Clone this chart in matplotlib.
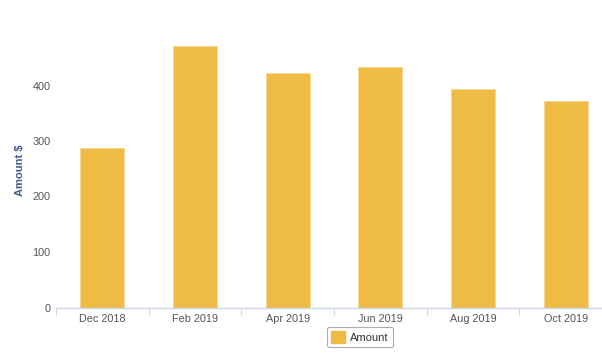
import matplotlib
matplotlib.use("Agg")
import matplotlib.pyplot as plt
from matplotlib.patches import Patch

months = ["Dec 2018", "Feb 2019", "Apr 2019", "Jun 2019", "Aug 2019", "Oct 2019"]
amounts = [287, 472, 422, 434, 393, 372]
y_ticks = [0, 100, 200, 300, 400]

W, H = 602, 353
fig = plt.figure(figsize=(W / 100, H / 100), dpi=100)
plt.rcParams["font.family"] = ["Liberation Sans", "DejaVu Sans"]

# plot area runs a bit past the right edge, like the original
left, right, bottom, top = 56, 612, 307.5, 30
ax = fig.add_axes([left / W, (H - bottom) / H, (right - left) / W, (bottom - top) / H])

x = list(range(len(months)))
ax.bar(x, amounts, width=0.475, color="#EEBB45", edgecolor="#F6D98F", linewidth=0.6, zorder=2)

ax.set_xlim(-0.5, len(months) - 0.5)
ax.set_ylim(0, 500)
ax.set_yticks(y_ticks)
ax.set_yticklabels([str(v) for v in y_ticks])
ax.set_xticks(x)
ax.set_xticklabels(months)

# category boundary ticks below the axis line
ax.set_xticks([i - 0.5 for i in range(len(months) + 1)], minor=True)
ax.tick_params(axis="x", which="major", length=0, pad=5, labelsize=7.8, labelcolor="#555555")
ax.tick_params(axis="x", which="minor", length=5, width=0.8, color="#CCD6EB")
ax.tick_params(axis="y", length=0, pad=4, labelsize=7.8, labelcolor="#555555")

for s in ["top", "right", "left"]:
    ax.spines[s].set_visible(False)
ax.spines["bottom"].set_color("#CCD6EB")
ax.spines["bottom"].set_linewidth(1.0)

fig.text(20 / W, 1 - 170 / H, "Amount $", rotation=90, ha="center", va="center",
         fontsize=8, fontweight="bold", color="#3E5A8A")

leg = fig.legend(handles=[Patch(facecolor="#EEBB45", edgecolor="#EEBB45", label="Amount")],
                 loc="center", bbox_to_anchor=(360 / W, 1 - 337 / H), frameon=True,
                 fontsize=8, handlelength=1.2, handleheight=1.2, handletextpad=0.5,
                 borderpad=0.4, fancybox=True)
leg.get_frame().set_edgecolor("#999999")
leg.get_frame().set_linewidth(0.8)
for t in leg.get_texts():
    t.set_color("#333333")

fig.savefig("out.png", dpi=100)
